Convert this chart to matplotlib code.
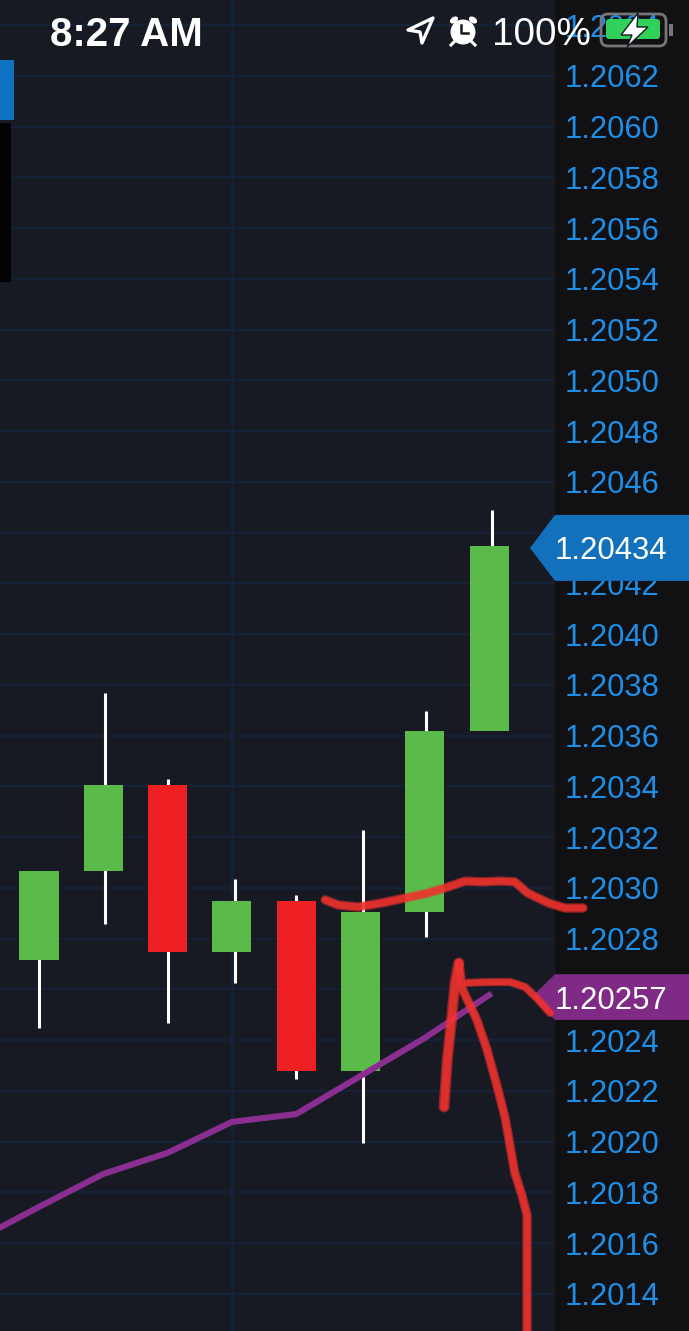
import matplotlib
matplotlib.use('Agg')
import matplotlib.pyplot as plt
from matplotlib.patches import Polygon, Circle, Ellipse, Rectangle, FancyBboxPatch

plt.rcParams['font.family'] = ['Liberation Sans', 'DejaVu Sans']

# CANDLES
candle_x = [0, 1, 2, 3, 4, 5, 6, 7]
opens = [1.202716, 1.203067, 1.203406, 1.202748, 1.202949, 1.202279, 1.202905, 1.203619]
closes = [1.203067, 1.203406, 1.202748, 1.202949, 1.202279, 1.202905, 1.203619, 1.204348]
highs = [1.203060, 1.203768, 1.203430, 1.203035, 1.202972, 1.203228, 1.203697, 1.204490]
lows = [1.202448, 1.202858, 1.202468, 1.202626, 1.202247, 1.201995, 1.202807, 1.203640]
wick_shift = [0, 0.03, 0, 0.05, 0, 0.04, 0.02, 0.05]

# MOVING AVERAGE
ma_x = [-1, 0, 1, 2, 3, 4, 5, 6, 7]
ma_y = [1.201609, 1.201743, 1.201873, 1.201956, 1.202078, 1.202109, 1.202259, 1.202409, 1.202578]

# HAND DRAWN RED MARKS
scrawl_top_x = [4.45, 4.65, 4.96, 5.33, 5.69, 6.05, 6.36, 6.63, 6.89, 7.20, 7.40, 7.60, 7.92, 8.18, 8.46]
scrawl_top_y = [1.202953, 1.202933, 1.202925, 1.202941, 1.202960, 1.202980, 1.203004, 1.203027,
                1.203024, 1.203027, 1.203024, 1.202980, 1.202941, 1.202921, 1.202921]
scrawl_up_x = [6.30, 6.35, 6.42, 6.47, 6.53]
scrawl_up_y = [1.202137, 1.202322, 1.202492, 1.202626, 1.202704]
scrawl_down_x = [6.53, 6.59, 6.81, 6.97, 7.14, 7.25, 7.40, 7.51, 7.59, 7.59, 7.59]
scrawl_down_y = [1.202704, 1.202598, 1.202480, 1.202361, 1.202204, 1.202093, 1.201877, 1.201790,
                 1.201711, 1.201494, 1.201240]
scrawl_head_x = [6.67, 6.97, 7.33, 7.56, 7.74, 7.95]
scrawl_head_y = [1.202626, 1.202629, 1.202629, 1.202610, 1.202566, 1.202507]

# PRICE AXIS
tick_values = [1.2064, 1.2062, 1.2060, 1.2058, 1.2056, 1.2054, 1.2052, 1.2050, 1.2048, 1.2046,
               1.2044, 1.2042, 1.2040, 1.2038, 1.2036, 1.2034, 1.2032, 1.2030, 1.2028, 1.2026,
               1.2024, 1.2022, 1.2020, 1.2018, 1.2016, 1.2014]
last_price = 1.20434
ma_price = 1.20257

BG = '#171923'
GRID = '#13233a'
PANEL = '#111113'
GREEN = '#5aba4a'
RED = '#ee2024'
BLUE = '#1270bd'
PURPLE = '#8a2e92'
SCRAWL = '#f0322e'

fig = plt.figure(figsize=(6.89, 13.31), dpi=100, facecolor=BG)
ax = fig.add_axes([0, 0, 1, 1], facecolor=BG)
x_left, x_right = -0.6065, 10.109
panel_x = 8.025
ax.set_xlim(x_left, x_right)
ax.set_ylim(1.201254, 1.2064995)
for s in ax.spines.values():
    s.set_visible(False)

# grid stops at the price panel
ax.hlines(tick_values, x_left, panel_x, color=GRID, linewidth=1.4, zorder=0.5)
ax.vlines(3, 1.201254, 1.2064995, color=GRID, linewidth=2, zorder=0.5)
ax.axvspan(panel_x, x_right, color=PANEL, linewidth=0, zorder=1)

ax.set_xticks([])
ax.yaxis.tick_right()
ax.set_yticks(tick_values)
ax.set_yticklabels(['%.4f' % v for v in tick_values])
ax.tick_params(axis='y', direction='in', length=0, pad=-89.3, labelcolor='#1e8fe8', labelsize=22.2)

for x, o, c, h, l, shift in zip(candle_x, opens, closes, highs, lows, wick_shift):
    ax.vlines(x + shift, l, h, color='white', linewidth=2.2, zorder=2, capstyle='butt')
    ax.bar(x, abs(c - o), bottom=min(o, c), width=0.607, color=GREEN if c > o else RED, zorder=3)

ax.plot(ma_x, ma_y, color=PURPLE, linewidth=4.4, zorder=4)

# price tags
for price, color, tip in [(last_price, BLUE, 7.636), (ma_price, '#7f2a85', 7.66)]:
    h = 0.00013 if color == BLUE else 0.00009
    ax.add_patch(Polygon([(tip, price), (panel_x, price + h), (x_right, price + h),
                          (x_right, price - h), (panel_x, price - h)],
                         closed=True, facecolor=color, edgecolor='none', zorder=5))
    ax.text(8.02, price, '%.5f' % price, color='white', fontsize=22.4, va='center_baseline', ha='left', zorder=6)

# soft outer stroke plus a denser core, the reference marks have fuzzy edges
for xs, ys, lw in [(scrawl_top_x, scrawl_top_y, 6.8), (scrawl_up_x, scrawl_up_y, 8.0),
                   (scrawl_down_x, scrawl_down_y, 6.8), (scrawl_head_x, scrawl_head_y, 6.0)]:
    ax.plot(xs, ys, color=SCRAWL, linewidth=lw, alpha=0.55, solid_capstyle='round',
            solid_joinstyle='round', zorder=7)
    ax.plot(xs, ys, color=SCRAWL, linewidth=lw * 0.72, alpha=0.8, solid_capstyle='round',
            solid_joinstyle='round', zorder=7)

# status bar and left edge of the app, drawn in screen pixels
top = fig.add_axes([0, 0, 1, 1], facecolor='none')
top.set_xlim(0, 689)
top.set_ylim(1331, 0)
top.axis('off')
top.add_patch(Rectangle((0, 60), 14, 60, facecolor='#0e72c3', edgecolor='none'))
top.add_patch(Rectangle((0, 123), 11, 159, facecolor='#030305', edgecolor='none'))
top.text(50, 31, '8:27 AM', color='white', fontsize=29, fontweight='bold', va='center_baseline', ha='left')
top.text(492, 31, '100%', color='white', fontsize=27.8, va='center_baseline', ha='left')

# location arrow
top.add_patch(Polygon([(433, 18), (408, 30), (420, 32), (422, 43)], closed=True,
                      facecolor='none', edgecolor='white', linewidth=2.4, joinstyle='round'))
# alarm clock
top.add_patch(Circle((463, 32), 12.5, facecolor='white', edgecolor='none'))
top.add_patch(Ellipse((454, 20), 9, 6, angle=-35, facecolor='white', edgecolor='none'))
top.add_patch(Ellipse((473, 20), 9, 6, angle=35, facecolor='white', edgecolor='none'))
top.plot([455, 451], [41, 45], color='white', linewidth=2.2)
top.plot([471, 475], [41, 45], color='white', linewidth=2.2)
top.plot([461, 461, 468], [25, 33, 33], color=BG, linewidth=1.8)
# battery
top.add_patch(FancyBboxPatch((603, 16), 61, 28, boxstyle='round,pad=2,rounding_size=7',
                             facecolor='none', edgecolor='#77777a', linewidth=2))
top.add_patch(FancyBboxPatch((606, 19), 54, 20, boxstyle='round,pad=0,rounding_size=3',
                             facecolor='#2fd158', edgecolor='none'))
top.add_patch(Rectangle((669, 24), 3.5, 12, facecolor='#77777a', edgecolor='none'))
top.add_patch(Polygon([(638, 13), (621, 35), (632, 35), (627, 47), (648, 27), (637, 27)],
                      closed=True, facecolor='white', edgecolor='#171923', linewidth=1))

plt.savefig('out.png', dpi=100, facecolor=BG)
plt.close()
